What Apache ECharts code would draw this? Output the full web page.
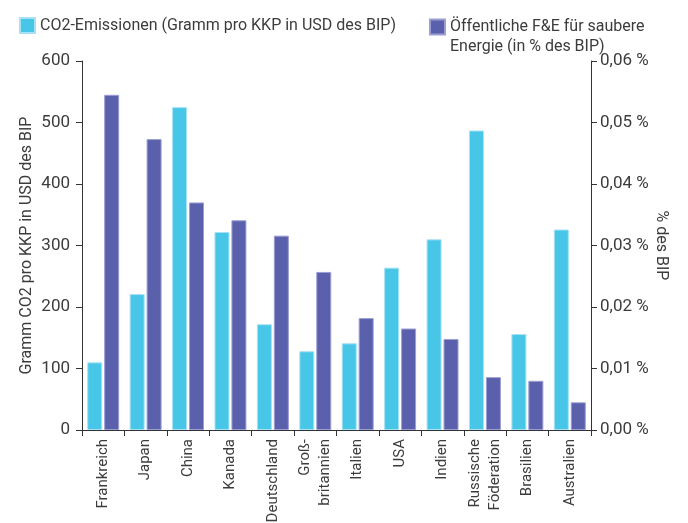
<!DOCTYPE html>
<html>
<head>
<meta charset="utf-8">
<script src="https://cdn.jsdelivr.net/npm/echarts@6/dist/echarts.min.js"></script>
<style>
  html, body { margin: 0; padding: 0; background: #fff; }
  #chart { width: 688px; height: 523px; }
</style>
</head>
<body>
<div id="chart"></div>
<script>
// Länder (x-Achse)
const categories = ['Frankreich', 'Japan', 'China', 'Kanada', 'Deutschland', 'Groß-\nbritannien',
  'Italien', 'USA', 'Indien', 'Russische\nFöderation', 'Brasilien', 'Australien'];
// CO2-Emissionen, Gramm pro KKP in USD des BIP (linke Achse)
const co2Values = [110, 221, 525, 322, 172, 128, 141, 264, 310, 487, 156, 326];
// Öffentliche F&E für saubere Energie, % des BIP (rechte Achse)
const rdValues = [0.0545, 0.0473, 0.0370, 0.0341, 0.0316, 0.0257, 0.0182, 0.0165, 0.0148, 0.0086, 0.0080, 0.0045];

const co2Name = 'CO2-Emissionen (Gramm pro KKP in USD des BIP)';
const rdName = 'Öffentliche F&E für saubere\nEnergie (in % des BIP)';

const FONT = 'Roboto, "Noto Sans", sans-serif';
const TEXT = '#3c3c3c';
const AXIS = '#333333';
const CYAN = '#48c6e8';
const PURPLE = '#5a60ab';

const chart = echarts.init(document.getElementById('chart'));

const axisCommon = {
  axisLine: { show: true, lineStyle: { color: AXIS, width: 1 } },
  axisTick: { show: true, length: 6, lineStyle: { color: AXIS } },
  splitLine: { show: false },
  nameMoveOverlap: false,
  nameTextStyle: { color: TEXT, fontFamily: FONT, fontSize: 16 }
};

chart.setOption({
  animation: false,
  backgroundColor: '#ffffff',
  textStyle: { fontFamily: FONT },
  legend: [
    {
      data: [co2Name],
      left: 14, top: 12,
      itemWidth: 15, itemHeight: 15, itemGap: 0,
      icon: 'rect',
      textStyle: { color: TEXT, fontFamily: FONT, fontSize: 16 }
    },
    {
      // blank first line keeps the first text line level with the swatch
      data: [rdName],
      left: 424, top: -8,
      itemWidth: 15, itemHeight: 15, itemGap: 0,
      icon: 'rect',
      formatter: name => ' \n' + name,
      textStyle: { color: TEXT, fontFamily: FONT, fontSize: 16, lineHeight: 20 }
    }
  ],
  grid: { left: 82, right: 97, top: 61, bottom: 93, outerBoundsMode: 'none' },
  xAxis: {
    type: 'category',
    data: categories,
    boundaryGap: true,
    axisLine: { show: true, lineStyle: { color: AXIS } },
    axisTick: { show: true, length: 6, lineStyle: { color: AXIS } },
    axisLabel: {
      rotate: 90, interval: 0, margin: 9,
      color: TEXT, fontFamily: FONT, fontSize: 15, lineHeight: 20
    }
  },
  yAxis: [
    Object.assign({}, axisCommon, {
      type: 'value',
      min: 0, max: 600, interval: 100,
      name: 'Gramm CO2 pro KKP in USD des BIP',
      nameLocation: 'middle', nameGap: 47,
      axisLabel: { color: TEXT, fontFamily: FONT, fontSize: 17, margin: 12 }
    }),
    Object.assign({}, axisCommon, {
      type: 'value',
      position: 'right',
      min: 0, max: 0.06, interval: 0.01,
      name: '% des BIP',
      nameLocation: 'middle', nameGap: 62, nameRotate: -90,
      axisLabel: {
        color: TEXT, fontFamily: FONT, fontSize: 17, margin: 9,
        formatter: v => v.toFixed(2).replace('.', ',') + ' %'
      }
    })
  ],
  series: [
    {
      name: co2Name,
      type: 'bar',
      yAxisIndex: 0,
      data: co2Values,
      barWidth: 15,
      barGap: '13%',
      itemStyle: { color: CYAN, borderColor: '#a6e2f3', borderWidth: 1 }
    },
    {
      name: rdName,
      type: 'bar',
      yAxisIndex: 1,
      data: rdValues,
      barWidth: 15,
      barGap: '13%',
      itemStyle: { color: PURPLE, borderColor: '#9a9ed2', borderWidth: 1 }
    }
  ]
});
</script>
</body>
</html>
